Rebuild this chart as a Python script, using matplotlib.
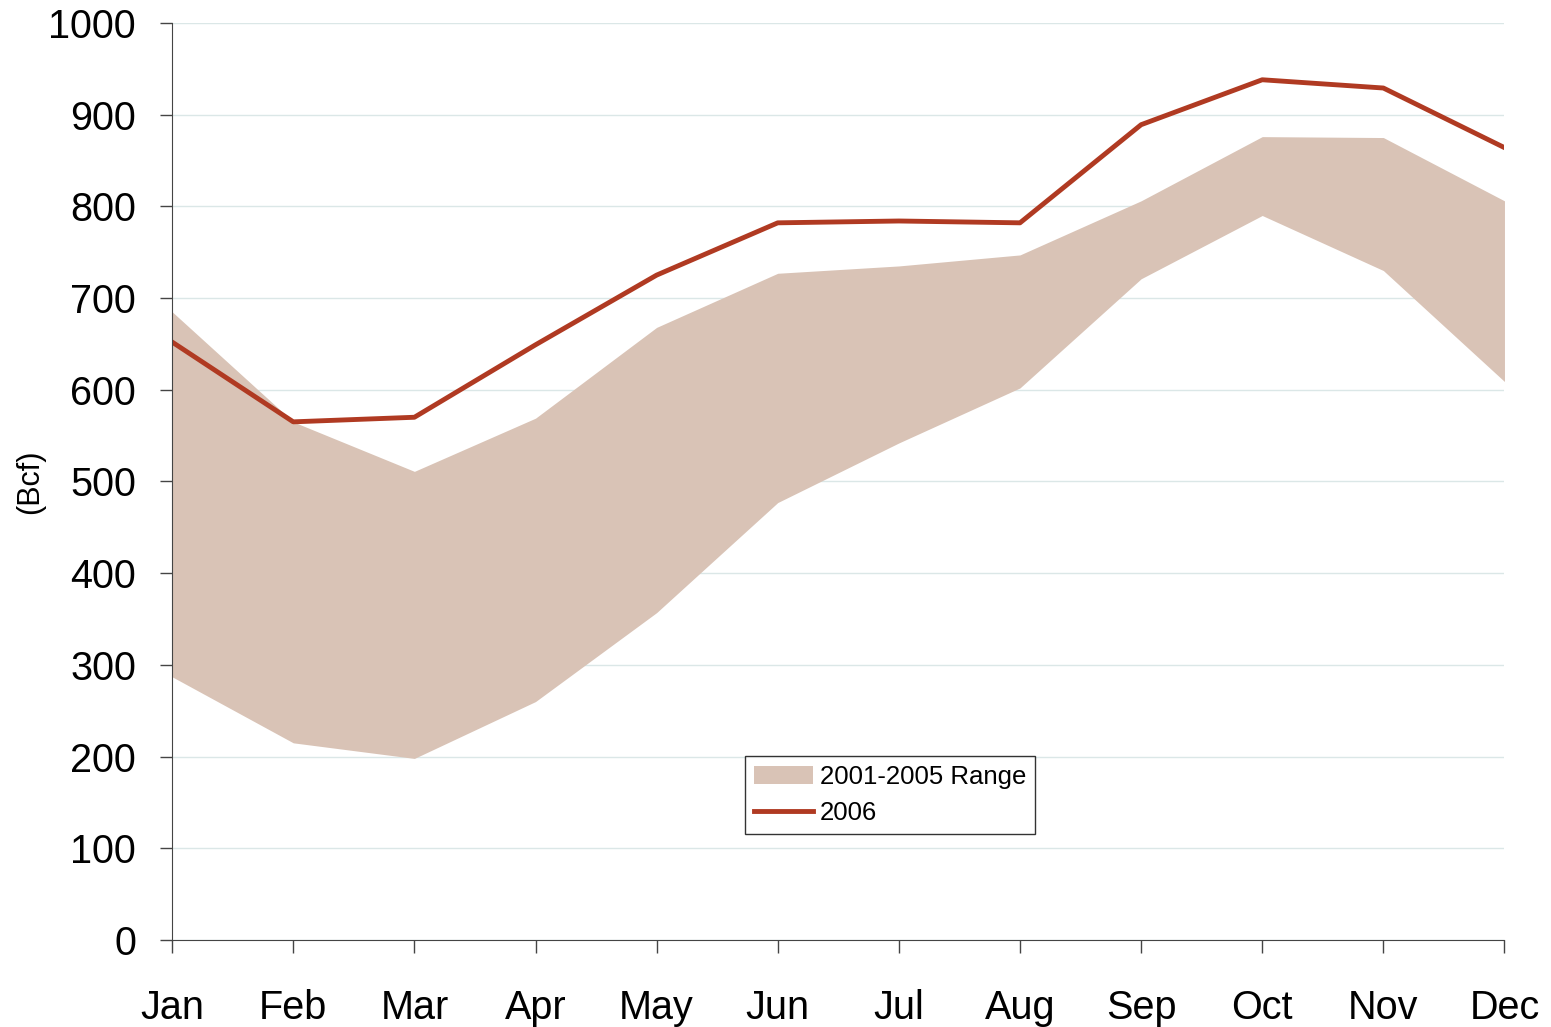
import matplotlib.pyplot as plt
from matplotlib.patches import Patch
from matplotlib.lines import Line2D

plt.rcParams['font.family'] = ['Liberation Sans', 'DejaVu Sans']

months = ['Jan', 'Feb', 'Mar', 'Apr', 'May', 'Jun', 'Jul', 'Aug', 'Sep', 'Oct', 'Nov', 'Dec']
range_high = [685, 565, 511, 569, 668, 727, 735, 747, 806, 876, 875, 806]
range_low = [287, 215, 198, 260, 357, 477, 542, 602, 721, 790, 730, 609]
y2006 = [652, 565, 570, 649, 725, 782, 784, 782, 889, 938, 929, 864]

band_color = '#d9c3b6'
line_color = '#b03a22'

fig = plt.figure(figsize=(15.51, 10.27), dpi=100)
ax = fig.add_axes([0.111, 0.0847, 0.859, 0.893])

x = range(len(months))
ax.fill_between(x, range_low, range_high, color=band_color, linewidth=0)
ax.plot(x, y2006, color=line_color, linewidth=3.5)

ax.set_xlim(0, len(months) - 1)
ax.set_ylim(0, 1000)
ax.set_yticks(range(0, 1001, 100))
ax.set_xticks(list(x))
ax.set_xticklabels(months)
ax.tick_params(axis='both', labelsize=28.5, direction='out', length=9, width=1, color='#444444')
ax.tick_params(axis='x', pad=26)
ax.tick_params(axis='y', pad=17)
ax.yaxis.grid(True, color='#dbe7e7', linewidth=1)
ax.set_axisbelow(True)
for s in ['top', 'right']:
    ax.spines[s].set_visible(False)
ax.spines['left'].set_color('#444444')
ax.spines['bottom'].set_color('#444444')
ax.set_ylabel('(Bcf)', fontsize=22)
ax.yaxis.set_label_coords(-0.095, 0.5)

handles = [Patch(facecolor=band_color, edgecolor='none', label='2001-2005 Range'),
           Line2D([0], [0], color=line_color, linewidth=3.5, label='2006')]
leg = ax.legend(handles=handles, loc='lower left', bbox_to_anchor=(0.43, 0.116),
                fontsize=18.5, frameon=True, fancybox=False, edgecolor='black',
                handlelength=2.3, handletextpad=0.25, borderpad=0.35, labelspacing=0.45,
                borderaxespad=0)
leg.get_frame().set_linewidth(1)

fig.savefig('out.png', dpi=100)
